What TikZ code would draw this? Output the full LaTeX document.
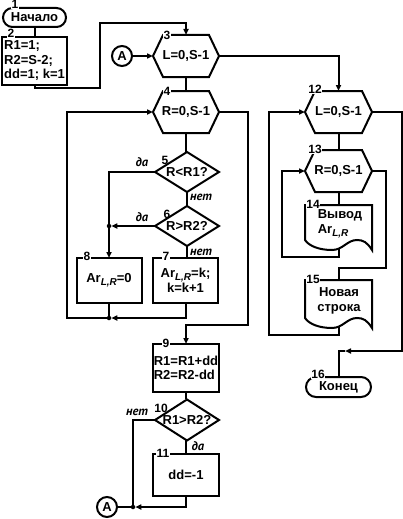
\documentclass[tikz,border=0pt]{standalone}
\usepackage{fontspec}
\setmainfont{Liberation Sans}
\newfontfamily\lblfam{PT Sans}
\usetikzlibrary{arrows.meta,shapes.misc}
\newcommand\mainf{\fontsize{13}{14.5}\selectfont\bfseries}
\newcommand\numf{\fontsize{12}{12}\selectfont\bfseries}
\newcommand\ynf{\lblfam\fontsize{12.5}{12.5}\selectfont\bfseries\itshape}
\newcommand\subLR{\raisebox{-3pt}{\fontsize{10}{10}\selectfont\bfseries\itshape L,R}}
\newcommand\hexshape[1]{\draw (#1.west) -- ([xshift=10pt]#1.north west) -- ([xshift=-10pt]#1.north east) -- (#1.east) -- ([xshift=-10pt]#1.south east) -- ([xshift=10pt]#1.south west) -- cycle;}
\newcommand\diashape[1]{\draw (#1.west) -- (#1.north) -- (#1.east) -- (#1.south) -- cycle;}
\newcommand\docshape[3]{\draw (#1,#2) -- ({#1+67},#2) -- ({#1+67},#3) .. controls ({#1+62},{#3-8}) and ({#1+58},{#3-10}) .. ({#1+52},{#3-10}) .. controls ({#1+42},{#3-10}) and ({#1+38},#3) .. ({#1+27},#3) .. controls ({#1+14},#3) and ({#1+4},{#3-4}) .. (#1,{#3-10}) -- cycle;}
\begin{document}
\begin{tikzpicture}[x=1pt,y=-1pt,line width=2pt,
  every node/.style={inner sep=1pt,outer sep=0pt,font=\mainf},
  blk/.style={rectangle,draw,align=left},
  ghost/.style={rectangle,align=center},
  term/.style={rounded rectangle,draw,minimum width=65,minimum height=19},
  con/.style={circle,draw,minimum size=20,inner sep=0pt},
  num/.style={font=\numf,fill=white,inner sep=0.4pt},
  numc/.style={font=\numf,inner sep=0pt},
  yn/.style={font=\ynf,inner sep=0pt},
  arr/.style={-{Triangle[length=6pt,width=5pt]}},
  dot/.style={circle,fill,inner sep=0pt,minimum size=4.5}]
\useasboundingbox (0,0) rectangle (403,519);

% nodes
\node[term] (t1) at (34.5,17.5) {Начало};
\node[blk,minimum width=65,minimum height=48] (b2) at (34.5,61) {R1=1;\\R2=S-2;\\dd=1; k=1};
\node[con] (cA1) at (122,56) {A};
\node[ghost,minimum width=66,minimum height=42] (h3) at (186,56) {L=0,S-1};
\node[ghost,minimum width=66,minimum height=42] (h4) at (186,112) {R=0,S-1};
\node[ghost,minimum width=64,minimum height=40] (d5) at (187,172) {R<R1?};
\node[ghost,minimum width=64,minimum height=40] (d6) at (187,226) {R>R2?};
\node[blk,align=center,minimum width=65,minimum height=45,font=\fontsize{13}{13}\selectfont\bfseries] (b7) at (185.5,280.5) {Ar\subLR=k;\\k=k+1};
\node[blk,align=center,minimum width=65,minimum height=45] (b8) at (109,280.5) {Ar\subLR=0};
\node[blk,minimum width=66,minimum height=48] (b9) at (186,368) {R1=R1+dd\\R2=R2-dd};
\node[ghost,minimum width=64,minimum height=41] (d10) at (187,420) {R1>R2?};
\node[blk,align=center,minimum width=66,minimum height=42] (b11) at (186,475) {dd=-1};
\node[con] (cA2) at (107,507) {A};
\node[dot] (J1) at (109,318) {};
\node[dot] (J2) at (109,226) {};
\node[dot] (J3) at (133,507) {};

\node[ghost,minimum width=67,minimum height=42] (h12) at (338.5,112) {L=0,S-1};
\node[ghost,minimum width=67,minimum height=42] (h13) at (338.5,171) {R=0,S-1};
\node[ghost,minimum width=67,minimum height=45] (d14) at (338.5,227.5) {};
\node[align=left] at (340,224) {Вывод\\Ar\subLR};
\node[ghost,minimum width=67,minimum height=48] (d15) at (338.5,304) {};
\node[align=center] at (339,301) {Новая\\строка};
\node[term,minimum width=67,minimum height=20] (t16) at (338.5,387) {Конец};
\coordinate (x14) at (338.5,249);
\coordinate (x15) at (338.5,327);
\coordinate (k16) at (345,351);

% shapes
\hexshape{h3}
\hexshape{h4}
\hexshape{h12}
\hexshape{h13}
\diashape{d5}
\diashape{d6}
\diashape{d10}
\docshape{305}{205}{250}
\docshape{305}{280}{328}

% connectors
\draw (t1.south) -- (b2.north);
\draw[arr] (b2.south) -- ++(0,3) -| (100,23) -| (h3.north);
\draw[arr] (cA1) -- (h3.west);
\draw (h3.south) -- (h4.north);
\draw[arr] (h3.east) -| (h12.north);
\draw[arr] (h4.east) -| (248,325) -| (b9.north);
\draw (h4.south) -- (186,152);
\draw[arr] (d5.west) -| (b8.north);
\draw (d5.south) -- (d6.north);
\draw[arr] (d6.west) -- (J2);
\draw (d6.south) -- (187,258);
\draw[arr] (186,303) |- (J1);
\draw (b8.south) -- (J1);
\draw[arr] (J1) -| (67,200) |- (h4.west);
\draw (b9.south) -- (186,399);
\draw (186,440) -- (b11.north);
\draw (d10.west) -| (J3);
\draw[arr] (b11.south) |- (J3);
\draw (J3) -- (cA2);
\draw (h12.south) -- (h13.north);
\draw (h13.south) -- (d14.north);
\draw[arr] (x14) -- (338.5,257) -| (282,200) |- (h13.west);
\draw (h13.east) -| (386,268) -| (d15.north);
\draw[arr] (x15) -- (338.5,335) -| (269,200) |- (h12.west);
\draw[arr] (h12.east) -| (402,351) -- (k16);
\draw (k16) -| (t16.north);

% labels
\node[yn] at (142,162) {да};
\node[yn] at (142,217) {да};
\node[yn] at (201,197) {нет};
\node[yn] at (201,252) {нет};
\node[yn] at (137,412) {нет};
\node[yn] at (198,446) {да};

% numbers
\node[num] at (15,4) {1};
\node[num] at (11,33) {2};
\node[num] at (167,35) {3};
\node[num] at (167,91) {4};
\node[numc] at (165,160) {5};
\node[numc] at (167,214) {6};
\node[num] at (166,256) {7};
\node[num] at (87,256) {8};
\node[num] at (166,343) {9};
\node[numc] at (161,408) {10};
\node[num] at (163,453) {11};
\node[num] at (315,89) {12};
\node[num] at (315,149) {13};
\node[num] at (313,204) {14};
\node[num] at (313,279) {15};
\node[num] at (318,374) {16};
\end{tikzpicture}
\end{document}
